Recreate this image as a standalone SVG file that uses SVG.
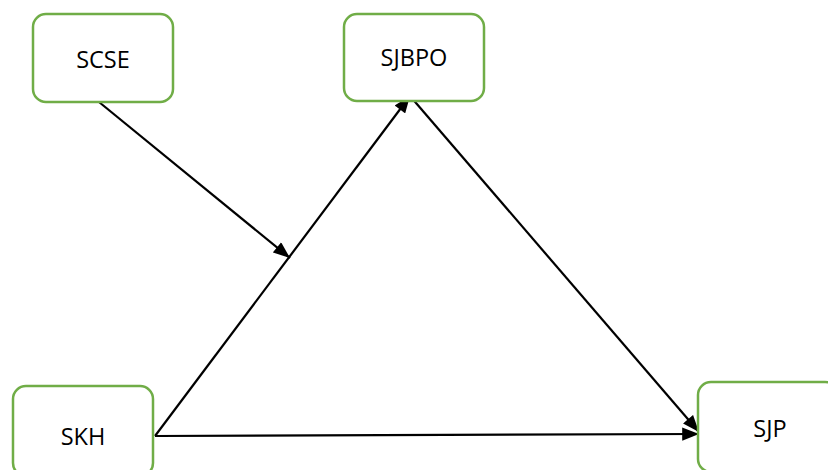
<svg xmlns="http://www.w3.org/2000/svg" width="828" height="470" viewBox="0 0 828 470">
  <defs>
    <marker id="arrow" viewBox="0 0 14 11" refX="14" refY="5.5" markerWidth="8" markerHeight="6" markerUnits="strokeWidth" orient="auto">
      <path d="M0,0 L14,5.5 L0,11 z" fill="#000"/>
    </marker>
    <style>
      .box { fill: #fff; stroke: #70ad47; stroke-width: 2.5; }
      .label { font-family: "Open Sans", "Liberation Sans", sans-serif; font-size: 23.5px; fill: #000; text-anchor: middle; dominant-baseline: central; }
      .edge { stroke: #000; stroke-width: 2.2; fill: none; marker-end: url(#arrow); }
    </style>
  </defs>
  <rect width="828" height="470" fill="#fff"/>

  <g id="connectors">
    <line class="edge" x1="99" y1="102" x2="290" y2="258"/>
    <line class="edge" x1="155" y1="436" x2="410" y2="96"/>
    <line class="edge" x1="410" y1="96" x2="699" y2="432"/>
    <line class="edge" x1="155" y1="436" x2="699" y2="434"/>
  </g>

  <g id="node-scse">
    <rect class="box" x="33" y="14" width="140" height="88" rx="13"/>
    <text class="label" x="103" y="59">SCSE</text>
  </g>
  <g id="node-sjbpo">
    <rect class="box" x="344" y="14" width="140" height="87" rx="13"/>
    <text class="label" x="414" y="57">SJBPO</text>
  </g>
  <g id="node-skh">
    <rect class="box" x="13" y="386" width="140" height="90" rx="13"/>
    <text class="label" x="83" y="436">SKH</text>
  </g>
  <g id="node-sjp">
    <rect class="box" x="698" y="382" width="140" height="90" rx="13"/>
    <text class="label" x="770" y="428">SJP</text>
  </g>
</svg>
